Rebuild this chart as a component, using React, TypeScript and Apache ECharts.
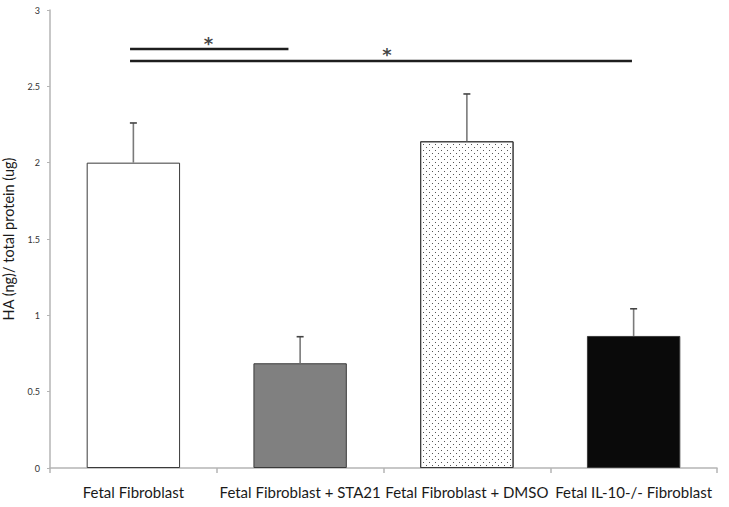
import React, { useEffect, useRef } from "react";
import * as echarts from "echarts";

const categories = [
  "Fetal Fibroblast",
  "Fetal Fibroblast + STA21",
  "Fetal Fibroblast + DMSO",
  "Fetal IL-10-/- Fibroblast",
];
const means = [2.0, 0.686, 2.14, 0.865];
const errorTops = [2.26, 0.86, 2.45, 1.043];
const yTicks = [0, 0.5, 1, 1.5, 2, 2.5, 3];
// significance brackets: [xStartIndex, xEndIndex, y]
const sigLines = [
  [-0.02, 0.93, 2.745],
  [-0.02, 2.99, 2.666],
];
// asterisks: [xIndex, y]
const stars = [
  [0.45, 2.8],
  [1.52, 2.728],
];

export default function App() {
  const ref = useRef<HTMLDivElement>(null);
  useEffect(() => {
    if (!ref.current) return;
    const chart = echarts.init(ref.current, undefined, { renderer: "svg" });
    const font = "Lato";
    const barStyles = [
      { color: "#ffffff", borderColor: "#3a3a3a", borderWidth: 1 },
      { color: "#808080", borderColor: "#3a3a3a", borderWidth: 1 },
      {
        color: "#ffffff",
        borderColor: "#3a3a3a",
        borderWidth: 1,
        decal: {
          symbol: "rect",
          symbolSize: 1,
          color: "#555555",
          dashArrayX: [
            [1, 5],
            [0, 3, 1, 2],
          ],
          dashArrayY: [1, 2],
          rotation: 0,
        },
      },
      { color: "#0a0a0a", borderColor: "#3a3a3a", borderWidth: 1 },
    ];
    chart.setOption({
      animation: false,
      backgroundColor: "#ffffff",
      grid: { left: 50, right: 12, top: 10, bottom: 39, containLabel: false, outerBoundsMode: "none" },
      xAxis: [
        {
          type: "category",
          data: categories,
          axisLine: { lineStyle: { color: "#b5b5b5", width: 1.5 } },
          axisTick: { show: true, length: 5, lineStyle: { color: "#b5b5b5", width: 1.5 } },
          axisLabel: {
            color: "#1a1a1a",
            fontFamily: font,
            fontSize: 15,
            margin: 16,
            interval: 0,
          },
        },
        {
          type: "value",
          min: -0.5,
          max: 3.5,
          show: false,
        },
      ],
      yAxis: {
        type: "value",
        min: 0,
        max: 3,
        interval: 0.5,
        name: "HA (ng)/ total protein (ug)",
        nameLocation: "middle",
        nameGap: 34,
        nameTextStyle: { color: "#1a1a1a", fontFamily: font, fontSize: 14.5 },
        axisLine: { show: true, onZero: false, lineStyle: { color: "#b5b5b5", width: 1.5 } },
        axisTick: { show: true, length: 3, lineStyle: { color: "#b5b5b5", width: 1 } },
        splitLine: { show: false },
        axisLabel: {
          color: "#333333",
          fontFamily: font,
          fontSize: 9,
          margin: 10,
          formatter: (v: number) => (yTicks.includes(v) ? String(v) : ""),
        },
      },
      series: [
        {
          type: "bar",
          barWidth: "56%",
          data: means.map((v, i) => ({ value: v, itemStyle: barStyles[i] })),
          z: 2,
        },
        {
          type: "custom",
          z: 3,
          data: means.map((v, i) => [i, v, errorTops[i]]),
          renderItem: (params: any, api: any) => {
            const x = api.value(0);
            const lo = api.coord([x, api.value(1)]);
            const hi = api.coord([x, api.value(2)]);
            const cap = 3.5;
            return {
              type: "group",
              children: [
                {
                  type: "line",
                  shape: { x1: lo[0], y1: lo[1], x2: hi[0], y2: hi[1] },
                  style: { stroke: "#7a7a7a", lineWidth: 1.6 },
                },
                {
                  type: "line",
                  shape: { x1: hi[0] - cap, y1: hi[1], x2: hi[0] + cap, y2: hi[1] },
                  style: { stroke: "#444444", lineWidth: 1.6 },
                },
              ],
            };
          },
        },
        ...sigLines.map((l) => ({
          type: "line",
          xAxisIndex: 1,
          data: [
            [l[0], l[2]],
            [l[1], l[2]],
          ],
          symbol: "none",
          lineStyle: { color: "#1e1e1e", width: 2.6 },
          z: 4,
        })),
        {
          type: "scatter",
          xAxisIndex: 1,
          data: stars,
          symbolSize: 1,
          itemStyle: { color: "rgba(0,0,0,0)" },
          label: {
            show: true,
            position: "inside",
            formatter: "*",
            color: "#111111",
            fontFamily: "DejaVu Sans",
            fontWeight: "bold",
            fontSize: 18,
            offset: [0, 3],
          },
          z: 5,
        },
      ],
    });
    return () => chart.dispose();
  }, []);
  return <div ref={ref} style={{ width: 729, height: 507, position: "absolute", left: 0, top: 0 }} />;
}
